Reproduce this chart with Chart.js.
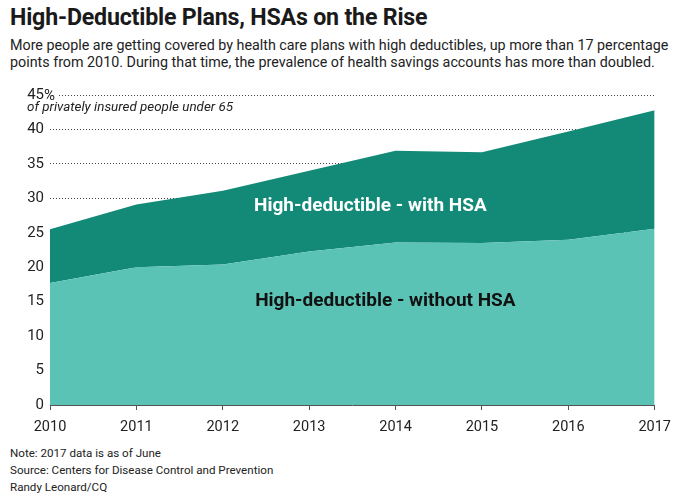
<!DOCTYPE html>
<html>
<head>
<meta charset="utf-8">
<script src="https://cdn.jsdelivr.net/npm/chart.js@4.4.1/dist/chart.umd.min.js"></script>
<style>
  body { margin: 0; background: #fff; font-family: Roboto, sans-serif; color: #1a1a1a; }
  #wrap { position: relative; width: 680px; height: 500px; overflow: hidden; }
  .title { position: absolute; left: 10px; top: 3px; font-size: 23.2px; font-weight: 700; letter-spacing: -0.2px; }
  .sub { position: absolute; left: 10px; top: 37px; font-size: 14.3px; line-height: 17px; width: 676px; color: #222; }
  .unit { position: absolute; left: 27px; top: 99px; font-size: 13.4px; font-style: italic; color: #222; }
  .notes { position: absolute; left: 10px; top: 445px; font-size: 11.6px; line-height: 17px; color: #222; }
  #box { position: absolute; left: 0; top: 80px; width: 680px; height: 360px; }
</style>
</head>
<body>
<div id="wrap">
  <div class="title">High-Deductible Plans, HSAs on the Rise</div>
  <div class="sub">More people are getting covered by health care plans with high deductibles, up more than 17 percentage<br>points from 2010. During that time, the prevalence of health savings accounts has more than doubled.</div>
  <div id="box"><canvas id="chart"></canvas></div>
  <div class="unit">of privately insured people under 65</div>
  <div class="notes">Note: 2017 data is as of June<br>Source: Centers for Disease Control and Prevention<br>Randy Leonard/CQ</div>
</div>
<script>
const years = ['2010', '2011', '2012', '2013', '2014', '2015', '2016', '2017'];
const withoutHSA = [17.7, 20.0, 20.4, 22.3, 23.6, 23.5, 24.0, 25.6];
const withHSA = [7.8, 9.1, 10.7, 11.7, 13.3, 13.2, 15.7, 17.2];
const yTicks = [0, 5, 10, 15, 20, 25, 30, 35, 40, 45];

Chart.defaults.font.family = 'Roboto';
Chart.defaults.color = '#222';

// area labels and the "%" after the top tick
const decorations = {
    id: 'decorations',
    afterDraw(chart) {
        const ctx = chart.ctx;
        const x = chart.scales.x;
        const y = chart.scales.y;
        const mid = (x.left + x.right) / 2;
        ctx.save();
        ctx.font = 'bold 19px Roboto';
        ctx.textAlign = 'center';
        ctx.textBaseline = 'middle';
        ctx.fillStyle = '#ffffff';
        ctx.fillText('High-deductible - with HSA', mid + 18, y.getPixelForValue(28.9));
        ctx.fillStyle = '#111111';
        ctx.fillText('High-deductible - without HSA', mid + 33, y.getPixelForValue(15.1));

        const py = y.getPixelForValue(45);
        ctx.font = '15px Roboto';
        ctx.textAlign = 'left';
        ctx.fillStyle = '#fff';
        ctx.fillRect(x.left - 6, py - 8, 14, 16);
        ctx.fillStyle = '#222';
        ctx.fillText('%', x.left - 6, py + 1);
        ctx.restore();
    }
};

new Chart(document.getElementById('chart'), {
    type: 'line',
    data: {
        labels: years,
        datasets: [
            {
                label: 'High-deductible - without HSA',
                data: withoutHSA,
                fill: 'origin',
                backgroundColor: '#5bc3b5',
                borderWidth: 0,
                pointRadius: 0
            },
            {
                label: 'High-deductible - with HSA',
                data: withHSA,
                fill: '-1',
                backgroundColor: '#138a77',
                borderWidth: 0,
                pointRadius: 0
            }
        ]
    },
    options: {
        responsive: true,
        maintainAspectRatio: false,
        animation: false,
        layout: { padding: { left: 0, right: 25, top: 12, bottom: 0 } },
        plugins: {
            legend: { display: false },
            tooltip: { enabled: false }
        },
        scales: {
            x: {
                stacked: true,
                offset: false,
                grid: { display: true, drawOnChartArea: false, drawTicks: true, tickLength: 5, color: '#555' },
                border: { display: true, color: '#555', width: 1 },
                ticks: { padding: 9, maxRotation: 0, font: { size: 14.5 }, color: '#222' },
                afterFit(scale) { scale.height = 35; }
            },
            y: {
                stacked: true,
                min: 0,
                max: 45,
                afterBuildTicks(scale) { scale.ticks = yTicks.map(v => ({ value: v })); },
                grid: { color: '#444', lineWidth: 1, drawTicks: false },
                border: { display: true, width: 0, color: 'rgba(0,0,0,0)', dash: [1, 2] },
                ticks: { padding: 6, font: { size: 15 }, color: '#222' },
                afterFit(scale) { scale.width = 50; }
            }
        }
    },
    plugins: [decorations]
});
</script>
</body>
</html>
